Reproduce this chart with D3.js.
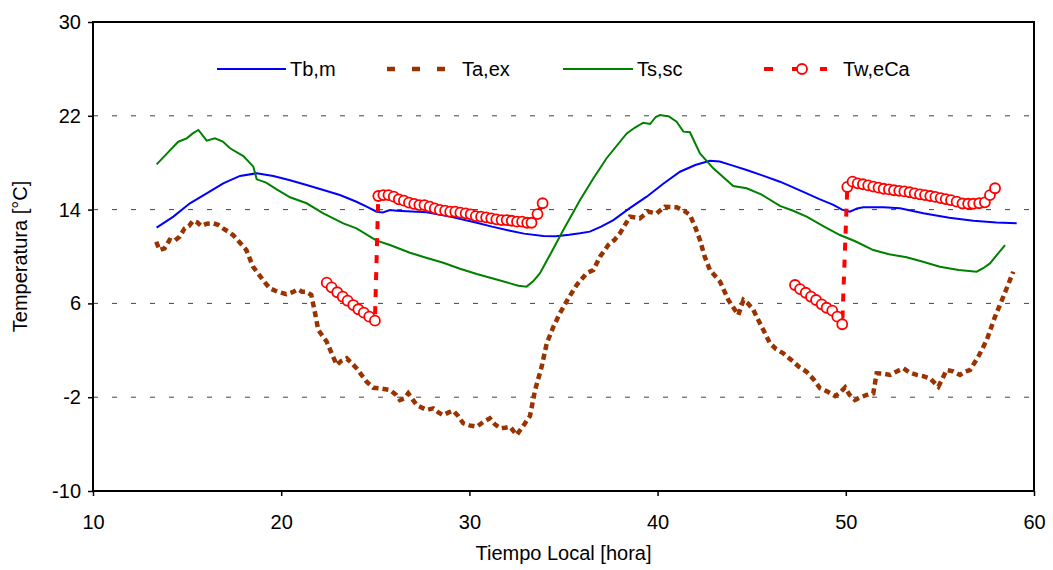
<!DOCTYPE html>
<html>
<head>
<meta charset="utf-8">
<script src="https://cdn.jsdelivr.net/npm/d3@7"></script>
<style>
  body { margin: 0; background: #fff; }
  svg text { font-family: 'Liberation Sans', Arial, sans-serif; fill: #000; }
</style>
</head>
<body>
<div id="chart"></div>
<script>
// hours (local time) and temperatures
const tbm = [
  [13.38, 12.46], [14.27, 13.4], [15.15, 14.54], [16.04, 15.39], [16.92, 16.24], [17.81, 16.87],
  [18.7, 17.1], [19.58, 16.87], [20.47, 16.5], [21.35, 16.1], [22.24, 15.67], [23.12, 15.24],
  [24.0, 14.67], [24.54, 14.25], [25.07, 13.82], [25.4, 13.75], [25.78, 13.97], [26.14, 13.9],
  [27.73, 13.77], [28.97, 13.4], [30.39, 12.88], [31.2, 12.55], [32.16, 12.2], [32.9, 11.95],
  [33.93, 11.75], [34.6, 11.72], [35.3, 11.85], [35.88, 11.98], [36.4, 12.12], [37.0, 12.55],
  [37.65, 13.1], [38.5, 14.1], [39.42, 15.1], [40.3, 16.2], [41.19, 17.23], [42.0, 17.8],
  [42.78, 18.17], [43.3, 18.1], [44.0, 17.75], [44.73, 17.38], [45.6, 16.9], [46.5, 16.38],
  [47.2, 15.9], [47.92, 15.39], [48.6, 14.9], [49.34, 14.4], [49.8, 14.0], [50.22, 13.82],
  [50.6, 14.1], [50.93, 14.2], [52.0, 14.2], [52.88, 14.11], [54.12, 13.68], [55.5, 13.3],
  [56.78, 13.05], [58.0, 12.9], [59.08, 12.83]
]

const taex = [
  [13.36, 11.26], [13.54, 10.55], [13.8, 10.7], [14.07, 11.41], [14.3, 11.3], [14.6, 11.69],
  [14.87, 12.4], [15.1, 12.6], [15.31, 13.05], [15.55, 12.9], [15.75, 12.6], [16.05, 12.8],
  [16.38, 12.83], [16.65, 12.7], [16.91, 12.4], [17.2, 12.1], [17.44, 11.83], [17.8, 11.2],
  [18.15, 10.55], [18.5, 9.13], [19.03, 8.0], [19.39, 7.29], [19.8, 7.0], [20.27, 6.78],
  [20.6, 6.95], [20.89, 7.2], [21.1, 7.0], [21.33, 7.0], [21.6, 6.72], [21.8, 5.16],
  [21.97, 3.73], [22.42, 2.73], [22.68, 1.74], [22.95, 0.75], [23.2, 1.1], [23.48, 1.32],
  [23.75, 0.9], [24.01, 0.46], [24.54, -0.68], [24.9, -1.2], [25.25, -1.24], [25.78, -1.39],
  [26.1, -1.8], [26.31, -2.24], [26.55, -2.1], [26.75, -1.67], [27.2, -2.67], [27.73, -3.09],
  [28.08, -2.95], [28.35, -3.3], [28.61, -3.52], [28.9, -3.3], [29.14, -3.15], [29.4, -3.6],
  [29.67, -4.22], [30.0, -4.4], [30.39, -4.52], [30.75, -4.1], [31.09, -3.8], [31.35, -4.3],
  [31.63, -4.65], [31.9, -4.6], [32.16, -4.52], [32.51, -5.22], [32.86, -4.45], [33.22, -3.6],
  [33.49, -1.39], [33.84, 0.6], [34.11, 2.6], [34.46, 4.0], [34.81, 5.16], [35.26, 6.44],
  [35.7, 7.57], [36.23, 8.57], [36.59, 8.85], [36.94, 9.98], [37.38, 10.98], [37.7, 11.4],
  [38.0, 11.98], [38.53, 13.4], [39.06, 13.26], [39.5, 13.82], [39.95, 13.68], [40.39, 14.25],
  [41.01, 14.2], [41.4, 13.9], [41.72, 13.54], [42.0, 12.5], [42.25, 11.41], [42.5, 10.0],
  [42.78, 8.85], [43.32, 7.85], [43.76, 6.29], [44.29, 5.01], [44.56, 6.29], [44.8, 6.0],
  [45.09, 5.44], [45.26, 4.87], [45.62, 3.73], [45.97, 2.6], [46.3, 2.1], [46.68, 1.74],
  [47.21, 1.03], [47.5, 0.6], [47.92, 0.17], [48.3, -0.5], [48.63, -1.24], [49.0, -1.5],
  [49.43, -1.9], [49.7, -1.6], [49.96, -1.16], [50.2, -1.8], [50.49, -2.24], [50.8, -2.0],
  [51.11, -1.81], [51.46, -1.67], [51.64, 0.04], [52.0, 0.0], [52.35, -0.1], [52.7, 0.2],
  [53.06, 0.46], [53.4, 0.1], [53.77, -0.1], [54.1, -0.2], [54.47, -0.39], [54.92, -1.1],
  [55.36, 0.32], [55.7, 0.2], [56.07, -0.1], [56.35, 0.2], [56.6, 0.32], [57.04, 1.45],
  [57.49, 2.88], [57.93, 4.87], [58.37, 6.57], [58.9, 8.7]
]

const tssc = [
  [13.38, 17.86], [14.0, 18.9], [14.53, 19.79], [14.98, 20.08], [15.3, 20.5], [15.6, 20.79],
  [16.04, 19.88], [16.48, 20.08], [16.9, 19.8], [17.28, 19.23], [17.99, 18.57], [18.52, 17.66],
  [18.7, 16.58], [19.2, 16.3], [19.76, 15.73], [20.47, 15.05], [21.35, 14.54], [22.24, 13.68],
  [23.3, 12.83], [24.0, 12.4], [25.07, 11.35], [25.78, 10.98], [26.84, 10.32], [27.7, 9.9],
  [28.61, 9.47], [29.5, 8.95], [30.39, 8.51], [31.3, 8.1], [32.16, 7.71], [32.6, 7.5],
  [33.04, 7.43], [33.4, 7.9], [33.75, 8.57], [34.3, 10.2], [34.99, 12.26], [35.88, 14.82],
  [36.6, 16.7], [37.29, 18.38], [38.36, 20.5], [38.8, 21.0], [39.24, 21.41], [39.6, 21.3],
  [39.9, 21.9], [40.13, 22.07], [40.6, 21.95], [41.01, 21.5], [41.37, 20.65], [41.72, 20.6],
  [42.25, 18.8], [42.96, 17.52], [44.02, 16.01], [44.73, 15.82], [45.5, 15.3], [46.5, 14.31],
  [47.2, 13.9], [47.92, 13.4], [48.8, 12.6], [49.69, 11.83], [50.5, 11.3], [51.46, 10.55],
  [52.3, 10.2], [53.23, 9.93], [54.1, 9.55], [55.0, 9.13], [56.0, 8.85], [56.95, 8.7],
  [57.3, 9.0], [57.66, 9.41], [58.46, 10.98]
]

// Tw,eCa comes in two pieces with a gap between them
const tweca1 = [
  [22.42, 7.77], [22.68, 7.37], [22.98, 6.95], [23.27, 6.57], [23.53, 6.23], [23.83, 5.86],
  [24.1, 5.5], [24.39, 5.21], [24.68, 4.87], [24.98, 4.53],
  [25.16, 15.16], [25.43, 15.24], [25.7, 15.24], [25.98, 15.1], [26.25, 14.88], [26.52, 14.76],
  [26.79, 14.59], [27.07, 14.48], [27.34, 14.39], [27.61, 14.39], [27.89, 14.25], [28.16, 14.11],
  [28.43, 13.97], [28.71, 13.91], [28.98, 13.82], [29.25, 13.82], [29.52, 13.74], [29.8, 13.68],
  [30.07, 13.6], [30.34, 13.45], [30.62, 13.4], [30.89, 13.34], [31.16, 13.26], [31.43, 13.17],
  [31.71, 13.11], [31.98, 13.11], [32.25, 13.05], [32.53, 12.97], [32.8, 12.97], [33.07, 12.88],
  [33.3, 12.88], [33.62, 13.62], [33.89, 14.54]
]
const tweca2 = [
  [47.3, 7.57], [47.57, 7.22], [47.87, 6.91], [48.15, 6.57], [48.42, 6.29], [48.72, 5.92],
  [48.98, 5.63], [49.28, 5.38], [49.55, 4.87], [49.81, 4.22],
  [50.08, 15.93], [50.36, 16.38], [50.63, 16.24], [50.91, 16.16], [51.19, 16.06], [51.46, 15.96],
  [51.74, 15.87], [52.01, 15.78], [52.29, 15.72], [52.56, 15.65], [52.84, 15.6], [53.11, 15.55],
  [53.39, 15.48], [53.66, 15.39], [53.94, 15.3], [54.21, 15.24], [54.49, 15.16], [54.76, 15.08],
  [55.04, 14.98], [55.31, 14.9], [55.59, 14.8], [55.89, 14.68], [56.2, 14.52], [56.5, 14.5],
  [56.77, 14.5], [57.09, 14.54], [57.39, 14.62], [57.66, 15.24], [57.93, 15.82]
]

const xTicks = [10, 20, 30, 40, 50, 60]
const yTicks = [-10, -2, 6, 14, 22, 30]
const gridTicks = [-2, 6, 14, 22]

let w = 1053, h = 570
let margin = { top: 22, left: 93, right: 19, bottom: 79 }
let fs = 20

let svg = d3.select('#chart').append('svg').attr('width', w).attr('height', h)

let x = d3.scaleLinear().domain([10, 60]).range([margin.left, w - margin.right])
let y = d3.scaleLinear().domain([-10, 30]).range([h - margin.bottom, margin.top])

// grid
svg.append('g').selectAll('line').data(gridTicks).enter().append('line')
  .attr('x1', x(10)).attr('x2', x(60))
  .attr('y1', d => y(d)).attr('y2', d => y(d))
  .attr('stroke', '#444').attr('stroke-width', 1).attr('stroke-dasharray', '5,14')

// axes (plain hyphen for negatives, as in the original)
let yAxis = svg.append('g').attr('transform', `translate(${x(10)},0)`)
  .call(d3.axisLeft(y).tickValues(yTicks).tickSize(5).tickSizeOuter(0).tickPadding(7)
    .tickFormat(d => String(d)))
let xAxis = svg.append('g').attr('transform', `translate(0,${y(-10)})`)
  .call(d3.axisBottom(x).tickValues(xTicks).tickSize(5).tickSizeOuter(0).tickPadding(19)
    .tickFormat(d => String(d)))
;[yAxis, xAxis].forEach(a => {
  a.select('.domain').remove()
  a.selectAll('line').attr('stroke', '#000').attr('stroke-width', 1.5)
  a.selectAll('text').attr('font-size', fs).attr('font-family', "'Liberation Sans', Arial, sans-serif")
})

// plot border
svg.append('rect').attr('x', x(10)).attr('y', y(30))
  .attr('width', x(60) - x(10)).attr('height', y(-10) - y(30))
  .attr('fill', 'none').attr('stroke', '#000').attr('stroke-width', 2)

let line = d3.line().x(d => x(d[0])).y(d => y(d[1]))

let series = [
  { data: tbm, color: '#0000ff', width: 2, dash: null },
  { data: tssc, color: '#008000', width: 2, dash: null },
  { data: taex, color: '#993300', width: 4.5, dash: '6,4' },
  { data: tweca1, color: '#ff0000', width: 4, dash: '8,9' },
  { data: tweca2, color: '#ff0000', width: 4, dash: '8,9' }
]
series.forEach(s => {
  svg.append('path').datum(s.data).attr('d', line)
    .attr('fill', 'none').attr('stroke', s.color).attr('stroke-width', s.width)
    .attr('stroke-dasharray', s.dash)
})

// circle markers
svg.append('g').selectAll('circle').data(tweca1.concat(tweca2)).enter().append('circle')
  .attr('cx', d => x(d[0])).attr('cy', d => y(d[1])).attr('r', 5)
  .attr('fill', '#fff').attr('stroke', '#ff0000').attr('stroke-width', 1.8)

// legend
let ly = 69
let legend = [
  { name: 'Tb,m', x1: 217, x2: 286, tx: 290, color: '#0000ff', width: 2, dash: null },
  { name: 'Ta,ex', x1: 387, x2: 447, tx: 462, color: '#993300', width: 4.5, dash: '8,17' },
  { name: 'Ts,sc', x1: 563, x2: 633, tx: 637, color: '#008000', width: 2, dash: null },
  { name: 'Tw,eCa', x1: 764, x2: 827, tx: 843, color: '#ff0000', width: 4, dash: '9,19' }
]
let lg = svg.append('g').selectAll('g').data(legend).enter().append('g')
lg.append('line').attr('x1', d => d.x1).attr('x2', d => d.x2).attr('y1', ly).attr('y2', ly)
  .attr('stroke', d => d.color).attr('stroke-width', d => d.width)
  .attr('stroke-dasharray', d => d.dash)
lg.append('text').text(d => d.name).attr('x', d => d.tx).attr('y', ly + 7).attr('font-size', fs)
svg.append('circle').attr('cx', 802).attr('cy', ly).attr('r', 5)
  .attr('fill', '#fff').attr('stroke', '#ff0000').attr('stroke-width', 1.8)

// axis titles
svg.append('text').text('Tiempo Local [hora]').attr('x', (x(10) + x(60)) / 2).attr('y', 560)
  .attr('text-anchor', 'middle').attr('font-size', fs)
svg.append('text').text('Temperatura [°C]')
  .attr('transform', `translate(27,${(y(30) + y(-10)) / 2}) rotate(-90)`)
  .attr('text-anchor', 'middle').attr('font-size', fs)
</script>
</body>
</html>
